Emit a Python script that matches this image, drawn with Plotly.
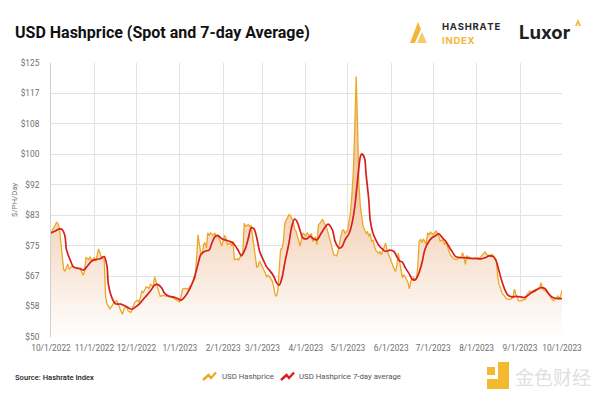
import plotly.graph_objects as go
import pandas as pd

START = "2022-10-01"

# Spot hashprice (USD / PH / day), days since 2022-10-01
spot_day = [0, 4, 5, 6, 9, 10, 11, 12, 13, 15, 17, 19, 21, 23, 24, 25, 27, 28, 29,
            31, 32, 34, 35, 36, 38, 39, 40, 41, 42, 44, 45, 47, 48, 49, 51, 52, 54, 55, 57, 59, 60,
            62, 63, 65, 66, 68, 70, 71, 73, 74, 75, 77, 78, 80, 82, 85, 87, 89,
            92, 93, 94, 96, 98, 100, 101, 103, 104, 105, 106, 107, 108, 109, 110, 111, 112, 113, 114, 116, 117, 118, 120, 121, 122,
            124, 125, 126, 128, 129, 130, 131, 133, 134, 136, 137, 138, 139, 141, 142, 143, 144, 146, 147, 148, 149, 150,
            152, 153, 154, 155, 156, 158, 159, 160, 161, 162, 163, 164, 165, 166, 167, 169, 170, 171, 173, 174, 175, 176, 178, 179, 180,
            182, 183, 185, 186, 187, 189, 190, 191, 192, 194, 195, 196, 197, 199, 201, 202, 204, 205, 207, 208, 209, 210,
            212, 213, 214, 215, 216, 217, 218, 219, 220, 221, 222, 223, 225, 226, 227, 228, 229, 230, 231, 232, 234, 235, 236, 237, 239, 240, 242,
            243, 244, 246, 247, 248, 249, 250, 251, 252, 254, 255, 256, 257, 259, 260, 261, 262, 263, 264, 265, 266, 268, 269, 270, 271,
            273, 274, 275, 277, 278, 280, 281, 282, 284, 285, 287, 288, 290, 291, 293, 294, 295, 296, 297, 299, 301, 303,
            305, 306, 308, 310, 311, 313, 315, 316, 318, 319, 320, 321, 322, 324, 325, 327, 328, 330, 331, 332, 333,
            334, 336, 337, 339, 340, 342, 343, 344, 346, 347, 349, 350, 351, 353, 354, 356, 357, 359, 360, 362, 363, 364, 365]
spot_usd = [78.5, 81.4, 81.0, 79.9, 68.5, 68.0, 69.0, 70.0, 68.5, 69.4, 69.0, 69.0, 68.5, 66.9, 68.0, 71.7, 71.2, 72.0, 70.8,
            71.7, 70.8, 74.1, 73.0, 71.7, 71.2, 61.2, 59.0, 58.5, 57.6, 58.7, 59.4, 59.9, 58.7, 58.0, 56.2, 57.6, 58.5, 57.2, 56.7, 58.7, 59.6,
            60.1, 59.4, 62.6, 62.2, 63.8, 63.3, 64.4, 63.8, 66.5, 65.3, 62.6, 61.1, 61.4, 61.2, 61.1, 60.8, 60.3,
            59.6, 61.2, 63.1, 63.3, 63.1, 64.2, 64.9, 66.2, 71.7, 78.0, 75.3, 73.1, 72.6, 75.3, 75.8, 74.4, 78.5, 77.8, 78.5, 77.8, 78.5, 77.6, 77.1, 76.2, 74.9,
            77.8, 77.1, 75.3, 75.8, 74.9, 76.2, 71.2, 71.4, 71.1, 72.2, 73.1, 81.1, 80.3, 80.8, 80.2, 80.5, 77.6, 73.1, 69.0, 69.4, 70.8, 69.9,
            68.5, 67.6, 66.5, 66.9, 66.5, 65.3, 64.0, 61.7, 61.1, 62.6, 68.5, 74.0, 74.1, 76.2, 81.2, 82.9, 83.5, 83.2, 81.7, 79.4, 79.0, 77.6, 74.9, 77.1, 78.5,
            77.6, 78.5, 77.6, 78.4, 76.1, 77.5, 75.2, 80.7, 81.1, 82.2, 81.3, 80.7, 79.8, 77.0, 74.3, 72.5, 72.2, 73.4, 77.5, 79.1, 79.3, 78.4,
            79.3, 82.0, 84.5, 89.3, 95.7, 107.6, 121.3, 107.6, 91.2, 85.7, 82.0, 80.2, 78.4, 78.9, 77.5, 78.4, 76.1, 76.6, 74.8, 73.8, 72.9, 73.4, 72.5, 73.8, 75.7, 73.8, 71.6,
            71.1, 69.7, 67.9, 69.3, 73.0, 70.5, 68.1, 66.2, 67.1, 65.8, 64.9, 63.2, 65.3, 66.2, 65.8, 65.8, 69.4, 76.2, 76.7, 75.8, 76.9, 75.3, 78.5, 78.0, 78.7,
            78.0, 78.5, 79.0, 77.6, 76.2, 76.7, 75.3, 76.2, 73.5, 72.6, 71.7, 71.4, 71.2, 71.7, 71.7, 73.1, 71.7, 69.9, 72.2, 71.7, 71.4, 71.4,
            71.7, 71.5, 72.4, 73.3, 72.6, 72.3, 72.6, 72.2, 71.2, 66.7, 64.4, 63.5, 62.1, 61.2, 60.5, 60.3, 60.3, 60.8, 63.1, 61.7, 60.8,
            59.9, 59.9, 60.2, 60.3, 61.7, 62.6, 62.0, 62.6, 63.1, 63.2, 63.5, 64.9, 63.2, 62.6, 62.1, 61.7, 60.8, 59.9, 60.3, 61.2, 60.5, 61.2, 62.8]

# 7-day average hashprice
avg_day = [0, 3, 6, 8, 10, 11, 14, 16, 19, 21, 23, 26, 29, 32, 35, 38, 40, 41, 44, 46, 50, 53, 56, 58, 60,
           63, 67, 71, 74, 76, 79, 81, 84, 87, 90, 93, 96, 99, 102, 105, 107, 110, 113, 115, 117, 119, 122,
           125, 129, 131, 134, 136, 139, 141, 143, 145, 147, 149, 152, 154, 156, 159, 161, 163, 165, 167, 170, 172, 174, 176, 178, 180,
           183, 185, 187, 190, 193, 196, 198, 201, 203, 206, 208, 210, 213, 215, 217, 219, 221, 222, 224, 225, 227, 228, 230, 232, 234, 236, 239, 242,
           245, 247, 249, 251, 253, 256, 258, 260, 262, 265, 267, 270, 272, 275, 277, 279, 282, 284, 287, 289, 293, 296, 300, 303,
           307, 310, 313, 316, 318, 320, 322, 324, 326, 329, 332, 335, 338, 340, 343, 347, 350, 353, 355, 357, 360, 363, 365]
avg_usd = [78.5, 79.0, 79.6, 79.4, 77.6, 74.0, 70.8, 69.2, 68.8, 68.7, 68.3, 69.4, 70.8, 71.2, 71.4, 72.0, 69.4, 64.4, 60.3, 59.1, 59.0, 58.5, 57.8, 57.6, 58.1,
           59.0, 60.8, 62.6, 64.2, 64.4, 63.5, 62.0, 61.2, 61.0, 60.6, 60.1, 61.2, 63.1, 65.8, 69.9, 72.6, 73.5, 73.8, 75.8, 77.4, 77.8, 76.9,
           76.5, 76.0, 75.3, 73.5, 72.2, 74.4, 77.1, 79.9, 79.6, 77.1, 73.5, 70.8, 69.2, 68.3, 66.7, 64.9, 64.2, 66.2, 70.3, 75.8, 80.3, 82.3, 81.4, 79.0, 77.1,
           76.9, 77.6, 77.0, 76.6, 78.4, 80.2, 80.9, 79.3, 76.1, 74.3, 74.8, 76.6, 78.4, 81.1, 85.7, 93.0, 99.4, 100.1, 98.9, 94.8, 87.5, 82.0, 78.4, 76.6, 75.2, 74.3, 73.4, 73.8,
           73.4, 72.0, 70.8, 70.5, 69.0, 67.2, 65.8, 65.6, 66.7, 70.3, 73.9, 76.2, 77.1, 77.8, 78.3, 77.4, 76.2, 74.9, 73.1, 72.0, 71.7, 71.7, 71.5, 71.5,
           71.4, 71.7, 72.2, 72.0, 70.8, 68.1, 65.3, 63.1, 61.6, 61.0, 61.1, 61.0, 60.8, 61.2, 62.1, 62.9, 63.5, 63.2, 62.1, 61.2, 60.6, 60.5, 60.5]

assert len(spot_day) == len(spot_usd)
assert len(avg_day) == len(avg_usd)

month_ticks = ["2022-10-01", "2022-11-01", "2022-12-01", "2023-01-01", "2023-02-01", "2023-03-01", "2023-04-01",
               "2023-05-01", "2023-06-01", "2023-07-01", "2023-08-01", "2023-09-01", "2023-10-01"]
month_labels = ["10/1/2022", "11/1/2022", "12/1/2022", "1/1/2023", "2/1/2023", "3/1/2023", "4/1/2023",
                "5/1/2023", "6/1/2023", "7/1/2023", "8/1/2023", "9/1/2023", "10/1/2023"]
y_ticks = [50, 58.333, 66.667, 75, 83.333, 91.667, 100, 108.333, 116.667, 125]
y_labels = ["$50", "$58", "$67", "$75", "$83", "$92", "$100", "$108", "$117", "$125"]
series_names = ["USD Hashprice", "USD Hashprice 7-day average"]

spot_x = pd.Timestamp(START) + pd.to_timedelta(spot_day, unit="D")
avg_x = pd.Timestamp(START) + pd.to_timedelta(avg_day, unit="D")

YELLOW = "#EBA823"
RED = "#D81E1E"
TICKFONT = "Roboto, sans-serif"

# plot area in pixels (for decorations only)
L, R, T, B = 51, 562, 63, 337
def px(X):
    return (X - L) / (R - L)
def py(Y):
    return (B - Y) / (B - T)

fig = go.Figure()
fig.add_trace(go.Scatter(
    x=spot_x, y=spot_usd, mode="lines", fill="tozeroy",
    line=dict(width=0, color="rgba(0,0,0,0)"),
    fillgradient=dict(type="vertical", start=50, stop=90,
                      colorscale=[[0, "rgba(255,255,255,1)"], [1, "#F1CBAC"]]),
    showlegend=False, hoverinfo="skip"))
fig.add_trace(go.Scatter(x=spot_x, y=spot_usd, mode="lines", name=series_names[0],
                         line=dict(color=YELLOW, width=1.3), showlegend=False))
fig.add_trace(go.Scatter(x=avg_x, y=avg_usd, mode="lines", name=series_names[1],
                         line=dict(color=RED, width=1.7, shape="spline", smoothing=0.8), showlegend=False))

grid = "#E2E2E2"
fig.update_xaxes(range=[month_ticks[0], month_ticks[-1]], tickvals=month_ticks, ticktext=month_labels,
                 tickangle=0, showgrid=True, gridcolor=grid, gridwidth=1, zeroline=False,
                 showline=False, ticks="", ticklabelstandoff=5,
                 tickfont=dict(family=TICKFONT, size=8.3, color="#6E6E6E"))
fig.update_yaxes(range=[50, 125], tickvals=y_ticks, ticktext=y_labels,
                 showgrid=True, gridcolor=grid, gridwidth=1, zeroline=False,
                 showline=True, linecolor="#CFCFCF", linewidth=1, ticks="", ticklabelstandoff=9,
                 tickfont=dict(family=TICKFONT, size=8.3, color="#6E6E6E"))

LEGFONT = dict(family=TICKFONT, size=7.8, color="#555555")
annotations = [
    dict(text="$/PH/Day", x=px(14), y=0.5, xref="paper", yref="paper", textangle=-90,
         xanchor="center", yanchor="middle",
         showarrow=False, font=dict(family=TICKFONT, size=7.8, color="#7A7A7A")),
    dict(text="Source: Hashrate Index", x=px(13), y=py(377), xref="paper", yref="paper",
         xanchor="left", yanchor="middle", showarrow=False,
         font=dict(family=TICKFONT, size=7.6, color="#222222", weight=500)),
    dict(text=series_names[0], x=px(220), y=py(376), xref="paper", yref="paper",
         xanchor="left", yanchor="middle", showarrow=False, font=LEGFONT),
    dict(text=series_names[1], x=px(297), y=py(376), xref="paper", yref="paper",
         xanchor="left", yanchor="middle", showarrow=False, font=LEGFONT),
    dict(text="H\u200aA\u200aS\u200aH\u200aR\u200aA\u200aT\u200aE", x=px(440), y=py(26), xref="paper", yref="paper",
         xanchor="left", yanchor="middle", showarrow=False,
         font=dict(family="Inter, Roboto", size=9.5, color="#2A2A2A", weight="bold")),
    dict(text="I\u200aN\u200aD\u200aE\u200aX", x=px(440), y=py(40), xref="paper", yref="paper",
         xanchor="left", yanchor="middle", showarrow=False,
         font=dict(family="Inter, Roboto", size=9.5, color="#F2B63A", weight="bold")),
    dict(text="Luxor", x=px(517), y=py(32), xref="paper", yref="paper",
         xanchor="left", yanchor="middle", showarrow=False,
         font=dict(family="Inter, Roboto", size=18.5, color="#1E1E1E", weight="bold")),
    dict(text="金色财经", x=px(513), y=py(376), xref="paper", yref="paper",
         xanchor="left", yanchor="middle", showarrow=False,
         font=dict(family="Noto Sans CJK SC", size=19, color="#E0E0E0")),
]

def path(points, close=True):
    s = "M " + " L ".join(f"{px(a)},{py(b)}" for a, b in points)
    return s + (" Z" if close else "")

shapes = [
    dict(type="path", xref="paper", yref="paper", path=path([(410, 43), (418, 22), (421, 29), (415, 43)]),
         fillcolor="#F2B63A", line=dict(width=0)),
    dict(type="path", xref="paper", yref="paper", path=path([(417, 43), (422, 32), (427, 43)]),
         fillcolor="#F6CB6A", line=dict(width=0)),
    dict(type="path", xref="paper", yref="paper", path=path([(575, 26), (578, 19), (581, 26), (579, 26), (578, 23), (577, 26)]),
         fillcolor="#F2B63A", line=dict(width=0)),
    dict(type="path", xref="paper", yref="paper", path=path([(487, 367), (495, 367), (495, 375), (487, 375)]),
         fillcolor="#F3BA2F", line=dict(width=0)),
    dict(type="path", xref="paper", yref="paper", path=path([(498, 362), (509, 362), (509, 389), (487, 389), (487, 379), (498, 379)]),
         fillcolor="#F3BA2F", line=dict(width=0)),
    # legend icons
    dict(type="path", xref="paper", yref="paper",
         path=path([(203, 380), (208.5, 375), (211, 378), (216, 372.5)], close=False),
         line=dict(color=YELLOW, width=2.4)),
    dict(type="path", xref="paper", yref="paper",
         path=path([(281, 380), (286.5, 375), (289, 378), (294, 372.5)], close=False),
         line=dict(color=RED, width=2.4)),
]

fig.update_layout(
    width=600, height=393,
    margin=dict(l=L, r=600 - R, t=T, b=393 - B),
    paper_bgcolor="white", plot_bgcolor="white",
    title=dict(text="<b>USD Hashprice (Spot and 7-day Average)</b>", x=15 / 600, xanchor="left", xref="container",
               y=1 - 32 / 393, yanchor="middle", yref="container",
               font=dict(family="Roboto, Inter", size=16, color="#111111")),
    annotations=annotations, shapes=shapes,
    showlegend=False,
)

fig.write_html("out.html", config={"displayModeBar": False},
               post_script="document.body.style.margin='0px';document.body.style.padding='0px';")
